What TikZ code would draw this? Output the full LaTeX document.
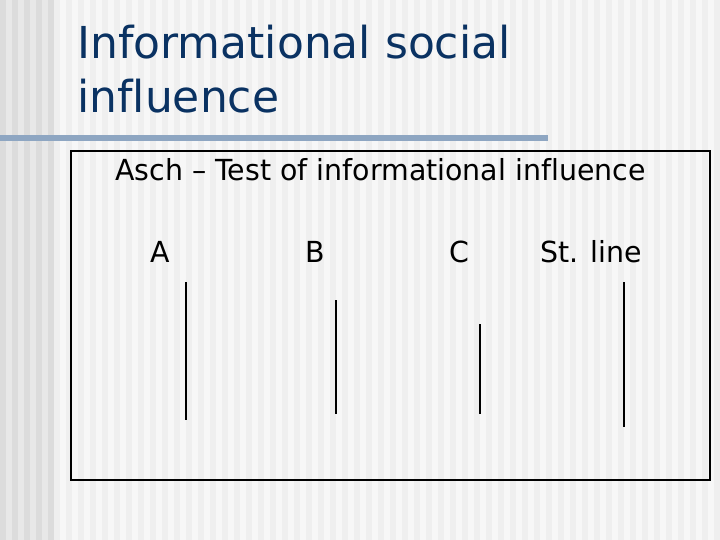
\documentclass[tikz,border=0pt]{standalone}
\usepackage{fontspec}
\usepackage{tikz}
\setmainfont{DejaVu Sans}
\newfontfamily\titlefont[Ligatures=NoCommon]{DejaVu Sans}
\newfontfamily\bodyfont[FakeStretch=0.98, Ligatures=NoCommon]{DejaVu Sans}

\definecolor{titleblue}{HTML}{0A3262}
\definecolor{rulegray}{HTML}{8EA6C2}
\definecolor{stripedark}{HTML}{DCDCDC}
\definecolor{stripelight}{HTML}{E8E8E8}
\definecolor{paneldark}{HTML}{EFEFEF}
\definecolor{panellight}{HTML}{F7F7F7}

\tikzset{
  titletext/.style={anchor=base west, inner sep=0pt, text=titleblue, font=\titlefont\fontsize{44}{52}\selectfont},
  bodytext/.style={anchor=base, inner sep=0pt, font=\bodyfont\fontsize{29}{35}\selectfont},
  stick/.style={line width=1.2pt, black},
}

\begin{document}
\begin{tikzpicture}[x=1pt, y=-1pt]
\useasboundingbox (0,0) rectangle (720,540);

% background stripes
\fill[panellight] (0,0) rectangle (720,540);
\foreach \s in {54,66,...,714}
  \fill[paneldark] (\s,0) rectangle ({\s+6},540);
\fill[stripelight] (0,0) rectangle (54,540);
\foreach \s in {0,12,...,48}
  \fill[stripedark] (\s,0) rectangle ({\s+6},540);

% title
\node[titletext] (title1) at (77,59) {Informational social};
\node[titletext] (title2) at (77,113) {influence};
\fill[rulegray] (0,135) rectangle (548,141);

% frame
\draw[line width=1.2pt] (71,151) rectangle (710,480);

\node[bodytext, anchor=base west] (heading) at (115,181) {Asch – Test of informational influence};

\node[bodytext] (labA) at (160,262) {A};
\node[bodytext] (labB) at (315,262) {B};
\node[bodytext] (labC) at (459,262) {C};
\node[bodytext] (labSt) at (591,262) {St. line};

% the four lines
\coordinate (Atop) at (186,282);  \coordinate (Abot) at (186,420);
\coordinate (Btop) at (336,300);  \coordinate (Bbot) at (336,414);
\coordinate (Ctop) at (480,324);  \coordinate (Cbot) at (480,414);
\coordinate (Stop) at (624,282);  \coordinate (Sbot) at (624,427);
\draw[stick] (Atop) -- (Abot);
\draw[stick] (Btop) -- (Bbot);
\draw[stick] (Ctop) -- (Cbot);
\draw[stick] (Stop) -- (Sbot);

\end{tikzpicture}
\end{document}
